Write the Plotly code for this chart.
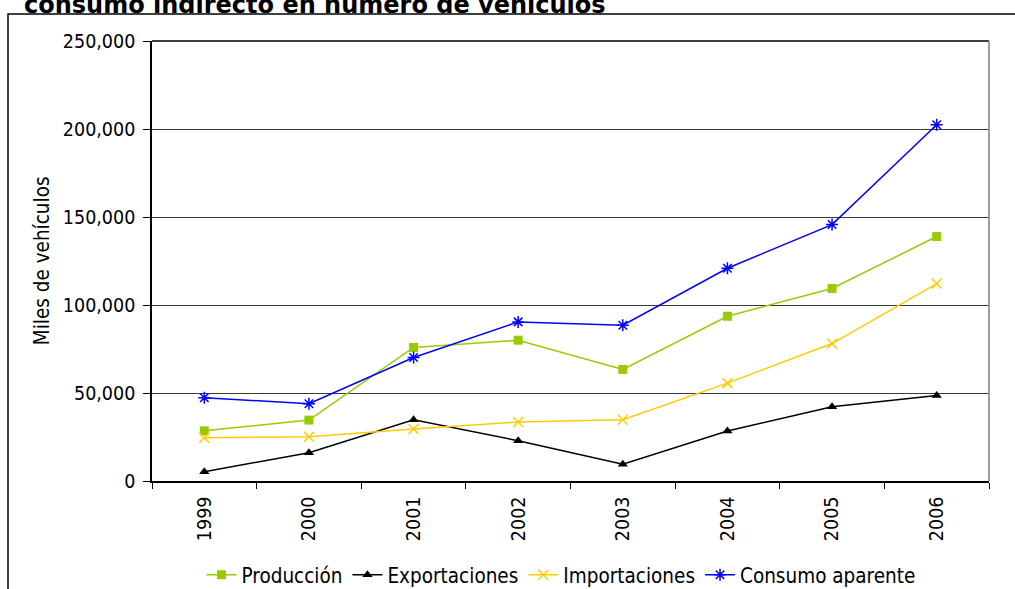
import plotly.graph_objects as go

# Years on the category axis
years = ["1999", "2000", "2001", "2002", "2003", "2004", "2005", "2006"]

# Series in thousands of vehicles
produccion = [28500, 34600, 75900, 80000, 63400, 93600, 109400, 138900]
exportaciones = [5300, 16100, 34800, 22900, 9500, 28400, 42200, 48600]
importaciones = [24600, 25100, 29500, 33500, 34800, 55600, 78100, 112200]
consumo_aparente = [47300, 43900, 70200, 90400, 88500, 120900, 145700, 202400]

y_ticks = [0, 50000, 100000, 150000, 200000, 250000]
y_tick_text = ["0", "50,000", "100,000", "150,000", "200,000", "250,000"]

FONT = "DejaVu Sans Condensed, DejaVu Sans, sans-serif"

series = [
    ("Producción", produccion, "#99CC00", dict(symbol="square", size=9)),
    ("Exportaciones", exportaciones, "#000000", dict(symbol="triangle-up", size=9)),
    ("Importaciones", importaciones, "#FFCC00",
     dict(symbol="x-thin-open", size=10, line=dict(width=1.5, color="#FFCC00"))),
    ("Consumo aparente", consumo_aparente, "#0000FF",
     dict(symbol="asterisk-open", size=10, line=dict(width=1.5, color="#0000FF"))),
]

fig = go.Figure()
for name, vals, color, marker in series:
    marker = dict(marker)
    marker["color"] = color
    fig.add_trace(go.Scatter(
        x=years, y=vals, name=name, mode="lines+markers",
        line=dict(color=color, width=1.5), marker=marker,
    ))

L, R, T, B = 152, 26, 40.5, 108
W, H = 1015, 589
plot_h = H - T - B
plot_w = W - L - R


def px_x(px):
    return (px - L) / plot_w


def px_y(py):
    return (H - B - py) / plot_h


fig.update_layout(
    width=W, height=H,
    margin=dict(l=L, r=R, t=T, b=B, pad=0, autoexpand=False),
    paper_bgcolor="white", plot_bgcolor="white",
    font=dict(family=FONT, size=19.5, color="black"),
    showlegend=True,
    legend=dict(
        orientation="h", x=px_x(561), xanchor="center",
        y=px_y(575), yanchor="middle",
        font=dict(family=FONT, size=20.5, color="black"),
        itemwidth=30, tracegroupgap=0,
        bgcolor="rgba(0,0,0,0)",
    ),
    xaxis=dict(
        type="category", tickson="boundaries", automargin=False,
        range=[-0.5, len(years) - 0.5],
        ticks="outside", ticklen=6, tickcolor="black", tickwidth=1,
        tickangle=-90, ticklabelstandoff=6,
        showline=True, linecolor="black", linewidth=1.5,
        showgrid=False, mirror=False,
        tickfont=dict(family=FONT, size=19.5, color="black"),
    ),
    yaxis=dict(
        range=[0, 250000], tickvals=y_ticks, ticktext=y_tick_text,
        automargin=False,
        ticks="outside", ticklen=7, tickcolor="black", tickwidth=1,
        ticklabelstandoff=4,
        showline=True, linecolor="black", linewidth=1.5,
        showgrid=True, gridcolor="#3a3a3a", gridwidth=1,
        zeroline=False,
        tickfont=dict(family=FONT, size=19.5, color="black"),
    ),
    shapes=[
        # top edge of the plot area (250,000 gridline)
        dict(type="line", xref="paper", yref="paper", x0=0, x1=1, y0=1, y1=1,
             line=dict(color="black", width=1.5)),
        # right border of the plot area
        dict(type="line", xref="paper", yref="paper", x0=1, x1=1, y0=0, y1=1,
             line=dict(color="#808080", width=1.5)),
        # outer chart frame
        dict(type="rect", xref="paper", yref="paper",
             x0=px_x(8), x1=px_x(1030), y0=px_y(600), y1=px_y(13.5),
             line=dict(color="black", width=1.5), layer="below"),
    ],
    annotations=[
        dict(text="Miles de vehículos", textangle=-90, showarrow=False,
             xref="paper", yref="paper", x=px_x(42), y=px_y(260),
             xanchor="center", yanchor="middle",
             font=dict(family=FONT, size=20.5, color="black")),
        dict(text="<b>consumo indirecto en número de vehículos</b>", showarrow=False,
             xref="paper", yref="paper", x=px_x(22), y=px_y(20),
             xanchor="left", yanchor="bottom",
             font=dict(family="DejaVu Sans", size=24, color="black")),
    ],
)

fig.write_html("out.html")
